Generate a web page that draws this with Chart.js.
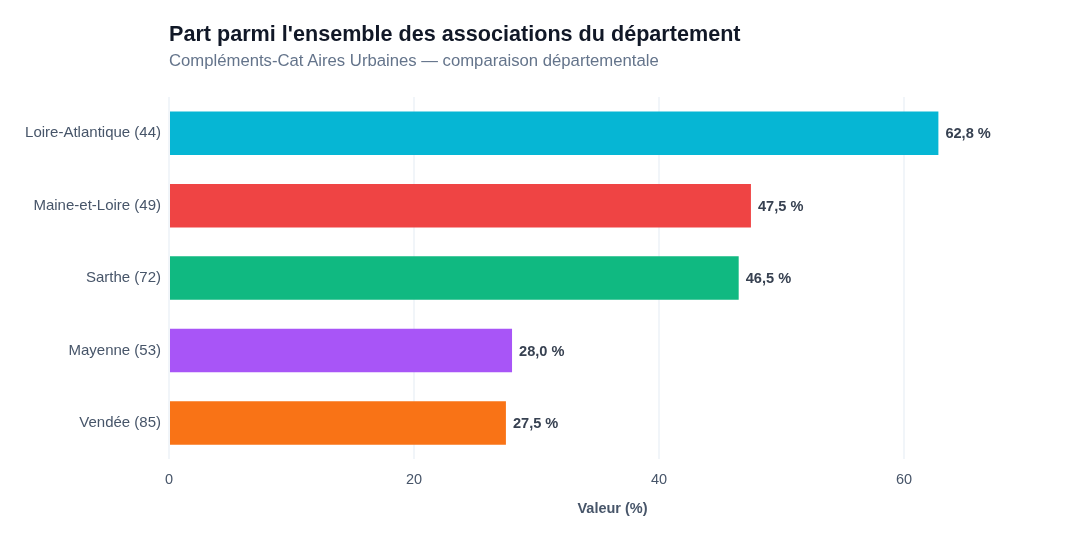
<!DOCTYPE html>
<html>
<head>
<meta charset="utf-8">
<script src="https://cdn.jsdelivr.net/npm/chart.js@4/dist/chart.umd.min.js"></script>
<style>
    body { margin: 0; background: #fff; font-family: "Liberation Sans", Arial, sans-serif; }
    #wrap { position: relative; width: 1080px; height: 540px; }
    #title { position: absolute; left: 169px; top: 21px; font-size: 21.6px; font-weight: bold; color: #111827; }
    #subtitle { position: absolute; left: 169px; top: 51px; font-size: 16.7px; color: #64748b; }
    canvas { position: absolute; left: 0; top: 0; }
</style>
</head>
<body>
<div id="wrap">
    <canvas id="c" width="1080" height="540"></canvas>
    <div id="title">Part parmi l'ensemble des associations du département</div>
    <div id="subtitle">Compléments-Cat Aires Urbaines — comparaison départementale</div>
</div>
<script>
const DEPARTEMENTS = ['Loire-Atlantique (44)', 'Maine-et-Loire (49)', 'Sarthe (72)', 'Mayenne (53)', 'Vendée (85)'];
const VALEURS = [62.8, 47.5, 46.5, 28.0, 27.5];
const COULEURS = ['#06b6d4', '#ef4444', '#10b981', '#a855f7', '#f97316'];
const AXE_MAX = 72.4;

const FONT = '"Liberation Sans", Arial, sans-serif';

// labels at the end of each bar
const valueLabels = {
    id: 'valueLabels',
    afterDatasetsDraw(chart){
        const ctx = chart.ctx;
        const meta = chart.getDatasetMeta(0);
        ctx.save();
        ctx.font = 'bold 14.6px ' + FONT;
        ctx.fillStyle = '#374151';
        ctx.textBaseline = 'middle';
        ctx.textAlign = 'left';
        meta.data.forEach((bar, i) => {
            const txt = VALEURS[i].toFixed(1).replace('.', ',') + ' %';
            ctx.fillText(txt, bar.x + 7, bar.y + 1);
        });
        ctx.restore();
    }
};

new Chart(document.getElementById('c'), {
    type: 'bar',
    data: {
        labels: DEPARTEMENTS,
        datasets: [{
            data: VALEURS,
            backgroundColor: COULEURS,
            borderWidth: 0,
            barPercentage: 0.6,
            categoryPercentage: 1
        }]
    },
    options: {
        indexAxis: 'y',
        responsive: false,
        animation: false,
        layout: { padding: { top: 97, right: 24, bottom: 22, left: 0 } },
        plugins: {
            legend: { display: false },
            tooltip: { enabled: false }
        },
        scales: {
            x: {
                min: 0,
                max: AXE_MAX,
                border: { display: false },
                grid: { color: '#f1f5f9', lineWidth: 2, drawTicks: false },
                ticks: {
                    stepSize: 20,
                    includeBounds: false,
                    padding: 12,
                    color: '#475569',
                    font: { family: FONT, size: 14.5 }
                },
                title: {
                    display: true,
                    text: 'Valeur (%)',
                    color: '#475569',
                    padding: { top: 0, bottom: 0 },
                    font: { family: FONT, size: 14.5, weight: 'bold' }
                }
            },
            y: {
                border: { display: false },
                grid: { display: false, drawTicks: false },
                ticks: {
                    padding: 8,
                    color: '#475569',
                    font: { family: FONT, size: 15 }
                },
                afterFit(scale){ scale.width = 169; }
            }
        }
    },
    plugins: [valueLabels]
});
</script>
</body>
</html>
